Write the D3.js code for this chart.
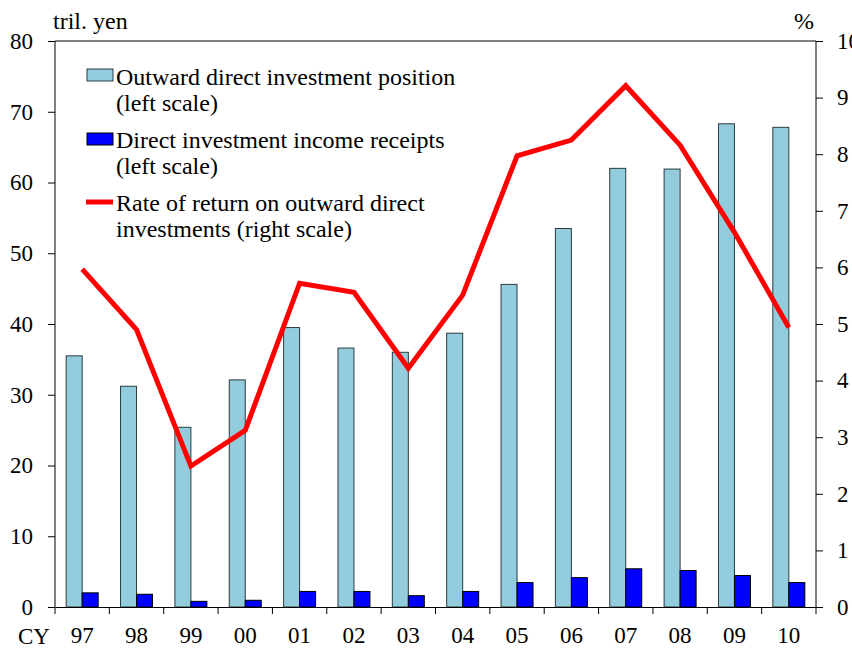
<!DOCTYPE html>
<html lang="en">
<head>
<meta charset="utf-8">
<title>Outward direct investment</title>
<script src="https://cdn.jsdelivr.net/npm/d3@7"></script>
<style>
  body { margin: 0; background: #fff; }
  text { font-family: "Liberation Serif", "Times New Roman", serif; fill: #000; }
</style>
</head>
<body>
<div id="chart"></div>
<script>
// data
const years = ["97", "98", "99", "00", "01", "02", "03", "04", "05", "06", "07", "08", "09", "10"];
const position = [35.5, 31.2, 25.4, 32.1, 39.5, 36.6, 36.0, 38.7, 45.6, 53.5, 62.0, 61.9, 68.3, 67.8];
const receipts = [2.0, 1.8, 0.8, 0.95, 2.2, 2.2, 1.6, 2.2, 3.45, 4.15, 5.4, 5.15, 4.45, 3.45];
const rateOfReturn = [5.97, 4.9, 2.49, 3.12, 5.72, 5.56, 4.22, 5.51, 7.97, 8.25, 9.21, 8.16, 6.62, 4.94];
const leftTicks = [0, 10, 20, 30, 40, 50, 60, 70, 80];
const rightTicks = [0, 1, 2, 3, 4, 5, 6, 7, 8, 9, 10];

const W = 852, H = 650;
const m = { left: 55, right: 36, top: 41, bottom: 43 };

const svg = d3.select("#chart").append("svg")
  .attr("width", W)
  .attr("height", H);

const x = d3.scaleBand().domain(years).range([m.left, W - m.right]);
const yL = d3.scaleLinear().domain([0, 80]).range([H - m.bottom, m.top]);
const yR = d3.scaleLinear().domain([0, 10]).range([H - m.bottom, m.top]);
const barW = 16;

// position bars (light blue)
svg.selectAll("rect.pos")
  .data(years)
  .enter()
  .append("rect")
    .attr("class", "pos")
    .attr("x", d => x(d) + x.bandwidth() / 2 - barW)
    .attr("y", (d, i) => yL(position[i]))
    .attr("width", barW)
    .attr("height", (d, i) => yL(0) - yL(position[i]))
    .attr("fill", "#93cddd")
    .attr("stroke", "#2a3a40")
    .attr("stroke-width", 1);

// income receipts bars (blue)
svg.selectAll("rect.rec")
  .data(years)
  .enter()
  .append("rect")
    .attr("class", "rec")
    .attr("x", d => x(d) + x.bandwidth() / 2)
    .attr("y", (d, i) => yL(receipts[i]))
    .attr("width", barW)
    .attr("height", (d, i) => yL(0) - yL(receipts[i]))
    .attr("fill", "#0000ff")
    .attr("stroke", "#000")
    .attr("stroke-width", 1);

// rate of return line
const line = d3.line()
  .x((d, i) => x(years[i]) + x.bandwidth() / 2)
  .y(d => yR(d));

svg.append("path")
  .datum(rateOfReturn)
  .attr("d", line)
  .attr("fill", "none")
  .attr("stroke", "#ff0000")
  .attr("stroke-width", 5)
  .attr("stroke-linejoin", "miter");

// axes
const fs = "24px";
const tickFs = "23px";

const leftAxis = svg.append("g")
  .attr("transform", `translate(${m.left},0)`)
  .call(d3.axisLeft(yL).tickValues(leftTicks).tickSize(7).tickPadding(15));

const rightAxis = svg.append("g")
  .attr("transform", `translate(${W - m.right},0)`)
  .call(d3.axisRight(yR).tickValues(rightTicks).tickSize(7).tickPadding(14));

const bottomAxis = svg.append("g")
  .attr("transform", `translate(0,${H - m.bottom})`)
  .call(d3.axisBottom(x).tickSize(0).tickPadding(20));

// ticks at category boundaries
svg.append("g")
  .selectAll("line")
  .data(years.concat(["end"]))
  .enter()
  .append("line")
    .attr("x1", (d, i) => m.left + i * x.step())
    .attr("x2", (d, i) => m.left + i * x.step())
    .attr("y1", H - m.bottom)
    .attr("y2", H - m.bottom + 7)
    .attr("stroke", "#000");

svg.selectAll(".domain").attr("stroke", "#000");
[leftAxis, rightAxis, bottomAxis].forEach(a => {
  a.selectAll("text")
    .style("font-family", '"Liberation Serif", "Times New Roman", serif')
    .style("font-size", tickFs)
    .attr("fill", "#000");
  a.selectAll(".tick line").attr("stroke", "#000");
});
leftAxis.select(".domain").attr("d", `M0,${yL(0)}V${yL(80)}`);
rightAxis.select(".domain").attr("d", `M0,${yR(0)}V${yR(10)}`);

// top frame line
svg.append("line")
  .attr("x1", m.left).attr("x2", W - m.right)
  .attr("y1", m.top).attr("y2", m.top)
  .attr("stroke", "#000");

// axis captions
svg.append("text").attr("x", 53).attr("y", 29).style("font-size", fs).text("tril. yen");
svg.append("text").attr("x", 814).attr("y", 29).attr("text-anchor", "end").style("font-size", fs).text("%");
svg.append("text").attr("x", 18).attr("y", 644).style("font-size", tickFs).text("CY");

// legend
const lg = svg.append("g");
lg.append("rect").attr("x", 87).attr("y", 69).attr("width", 26).attr("height", 12)
  .attr("fill", "#93cddd").attr("stroke", "#2a3a40");
lg.append("rect").attr("x", 87).attr("y", 133).attr("width", 26).attr("height", 12)
  .attr("fill", "#0000ff").attr("stroke", "#000");
lg.append("line").attr("x1", 86).attr("x2", 113).attr("y1", 202).attr("y2", 202)
  .attr("stroke", "#ff0000").attr("stroke-width", 5);

const legendText = [
  ["Outward direct investment position", 85],
  ["(left scale)", 111],
  ["Direct investment income receipts", 148],
  ["(left scale)", 174],
  ["Rate of return on outward direct", 211],
  ["investments (right scale)", 237]
];
lg.selectAll("text.lt")
  .data(legendText)
  .enter()
  .append("text")
    .attr("class", "lt")
    .attr("x", 116)
    .attr("y", d => d[1])
    .style("font-size", fs)
    .text(d => d[0]);
</script>
</body>
</html>
